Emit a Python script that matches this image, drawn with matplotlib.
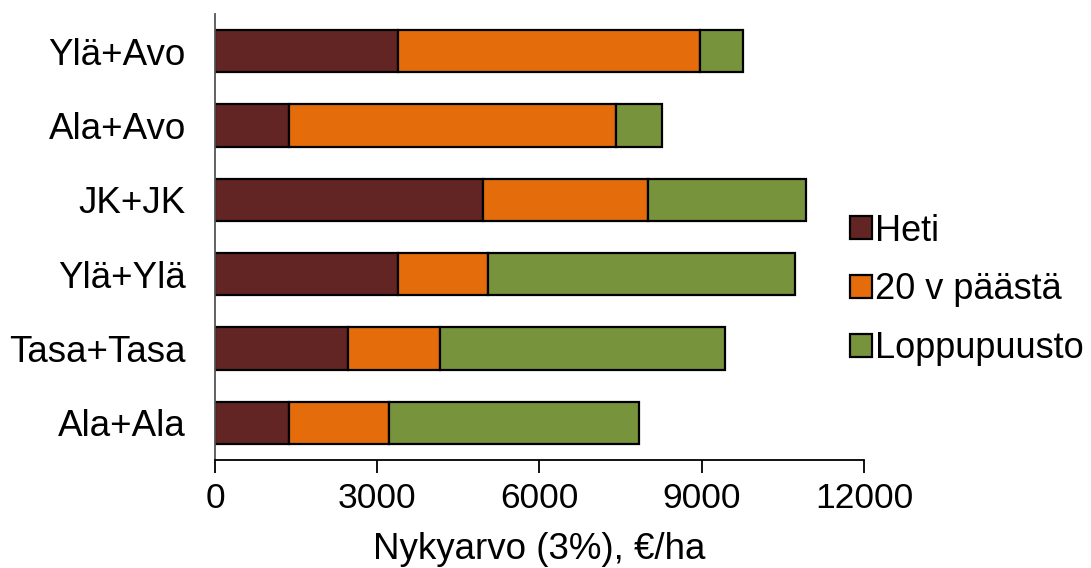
import matplotlib
matplotlib.use("Agg")
import matplotlib.pyplot as plt
from matplotlib.patches import Patch

plt.rcParams['font.family'] = ['Liberation Sans', 'DejaVu Sans']

# Categories listed bottom to top
categories = ["Ala+Ala", "Tasa+Tasa", "Ylä+Ylä", "JK+JK", "Ala+Avo", "Ylä+Avo"]
heti = [1370, 2460, 3380, 4960, 1370, 3380]
paasta20 = [1840, 1705, 1660, 3040, 6050, 5585]
loppupuusto = [4635, 5260, 5680, 2920, 840, 795]

series_names = ["Heti", "20 v päästä", "Loppupuusto"]
colors = ["#632523", "#E46C0A", "#77933C"]

fig = plt.figure(figsize=(10.91, 5.68), dpi=100)
ax = fig.add_axes([215 / 1091, (568 - 460) / 568, 649 / 1091, 446 / 568])

y = range(len(categories))
left = [0] * len(categories)
for vals, col in zip([heti, paasta20, loppupuusto], colors):
    ax.barh(y, vals, left=left, height=0.57, color=col,
            edgecolor="black", linewidth=1.6)
    left = [a + b for a, b in zip(left, vals)]

ax.set_xlim(0, 12000)
ax.set_ylim(-0.5, len(categories) - 0.5)
ax.set_xticks([0, 3000, 6000, 9000, 12000])
ax.set_yticks(list(y))
ax.set_yticklabels(categories)
ax.tick_params(axis="x", labelsize=25.5, length=9, width=1.3, direction="out", pad=7)
ax.tick_params(axis="y", labelsize=26.5, length=0, pad=21)
ax.set_xlabel("Nykyarvo (3%), €/ha", fontsize=26.5, labelpad=12)

for s in ("top", "right"):
    ax.spines[s].set_visible(False)
ax.spines["left"].set_color("#555555")
ax.spines["left"].set_linewidth(1.3)
ax.spines["bottom"].set_color("black")
ax.spines["bottom"].set_linewidth(1.3)

handles = [Patch(facecolor=c, edgecolor="black", linewidth=1.6) for c in colors]
fig.legend(handles, series_names, loc="center left",
           bbox_to_anchor=(832 / 1091, (568 - 290) / 568), frameon=False,
           fontsize=26, handlelength=0.6, handleheight=0.6,
           handletextpad=0.1, labelspacing=0.66, borderpad=0)

fig.savefig("out.png", dpi=100)
